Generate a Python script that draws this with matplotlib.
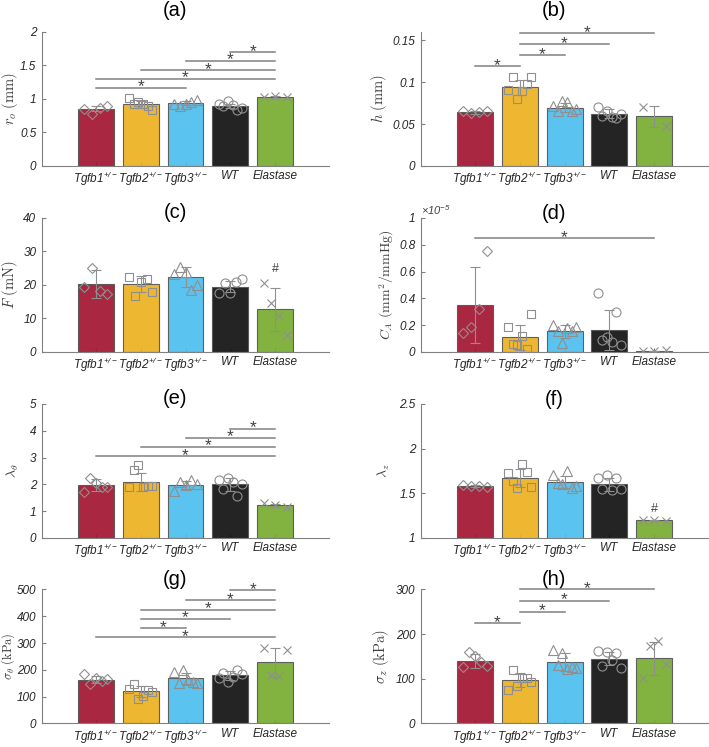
import numpy as np
import matplotlib
matplotlib.use('Agg')
import matplotlib.pyplot as plt
from matplotlib.ticker import FuncFormatter

plt.rcParams['font.family'] = ['Liberation Sans', 'DejaVu Sans']
plt.rcParams['mathtext.fontset'] = 'custom'
plt.rcParams['mathtext.rm'] = 'Liberation Sans:italic'
plt.rcParams['mathtext.it'] = 'Liberation Sans:italic'

groups = ['Tgfb1$^{+/-}$', 'Tgfb2$^{+/-}$', 'Tgfb3$^{+/-}$', 'WT', 'Elastase']
colors = ['#a2142f', '#edb120', '#4dbeee', '#111111', '#77ac30']
markers = ['D', 's', '^', 'o', 'x']
msizes = [5.5, 6, 7, 6.5, 5.5]

# (a) outer radius
ro_mean = [0.854, 0.918, 0.933, 0.898, 1.032]
ro_sd = [0.04, 0.05, 0.03, 0.03, 0.01]
ro_pts = [[0.85, 0.78, 0.86, 0.89],
          [1.02, 0.92, 0.96, 0.92, 0.89, 0.83],
          [0.92, 0.90, 0.92, 0.96, 0.99],
          [0.93, 0.89, 0.97, 0.91, 0.84, 0.86],
          [1.03, 1.04, 1.03]]
ro_sig = [(0, 2, 1.17), (0, 4, 1.305), (1, 4, 1.43), (2, 4, 1.57), (3, 4, 1.70)]

# (b) thickness
h_mean = [0.0642, 0.0941, 0.0697, 0.0626, 0.0591]
h_sd = [0.002, 0.009, 0.005, 0.005, 0.013]
h_pts = [[0.066, 0.063, 0.064, 0.066],
         [0.091, 0.106, 0.080, 0.089, 0.098, 0.106],
         [0.072, 0.066, 0.077, 0.076, 0.066, 0.068],
         [0.071, 0.060, 0.066, 0.058, 0.0575, 0.062],
         [0.071, 0.048]]
h_sig = [(0, 1, 0.1193), (1, 2, 0.1323), (1, 3, 0.1457), (1, 4, 0.1587)]

# (c) axial force
F_mean = [20.3, 20.3, 22.4, 19.5, 12.7]
F_sd = [4.2, 2.4, 3.0, 1.6, 6.5]
F_pts = [[19.3, 25.0, 18.2, 17.3],
         [22.3, 16.6, 21.0, 21.8, 18.0],
         [23.2, 25.3, 24.0, 18.6, 20.1],
         [17.6, 20.5, 17.5, 20.8, 21.7],
         [20.7, 14.6, 10.7, 5.2]]
F_sig = []
F_hash = (4, 23.0)

# (d) compliance, x1e-5 mm^2/mmHg
CA_mean = [0.348, 0.109, 0.154, 0.162, 0.008]
CA_sd = [0.283, 0.095, 0.05, 0.148, 0.003]
CA_pts = [[0.142, 0.184, 0.323, 0.751],
          [0.19, 0.06, 0.05, 0.12, 0.025, 0.28],
          [0.20, 0.16, 0.07, 0.18, 0.16, 0.19],
          [0.44, 0.09, 0.11, 0.075, 0.30, 0.05],
          [0.004, 0.008, 0.012]]
CA_sig = [(0, 4, 0.851)]

# (e) circumferential stretch
lt_mean = [1.965, 2.10, 1.98, 2.0, 1.22]
lt_sd = [0.22, 0.33, 0.16, 0.23, 0.06]
lt_pts = [[1.72, 2.25, 2.05, 1.90, 1.92],
          [1.89, 2.52, 2.71, 1.90, 1.95, 1.93],
          [1.77, 2.08, 1.97, 2.18, 2.0],
          [2.18, 1.84, 2.24, 2.10, 1.58, 2.0],
          [1.30, 1.23, 1.16]]
lt_sig = [(0, 4, 3.06), (1, 4, 3.41), (2, 4, 3.74), (3, 4, 4.08)]

# (f) axial stretch
lz_mean = [1.581, 1.675, 1.626, 1.60, 1.199]
lz_sd = [0.01, 0.10, 0.07, 0.07, 0.005]
lz_pts = [[1.59, 1.58, 1.58, 1.57],
          [1.73, 1.64, 1.56, 1.83, 1.74, 1.57],
          [1.71, 1.62, 1.60, 1.75, 1.56, 1.58],
          [1.67, 1.55, 1.70, 1.54, 1.67, 1.55],
          [1.20, 1.20, 1.19]]
lz_sig = []
lz_hash = (4, 1.26)

# (g) circumferential stress
st_mean = [164, 120.6, 168, 179, 229]
st_sd = [14, 20, 22, 16, 54]
st_pts = [[184, 147, 170, 160, 165],
          [127, 149, 93, 102, 124, 118],
          [192, 150, 198, 162, 156, 152],
          [168, 187, 155, 174, 201, 185],
          [280, 182, 178, 275]]
st_sig = [(0, 4, 321), (1, 2, 356), (1, 3, 390.5), (1, 4, 425), (2, 4, 460), (3, 4, 497.5)]

# (h) axial stress
sz_mean = [140, 97, 138, 145, 146]
sz_sd = [15, 16, 20, 15, 37]
sz_pts = [[126, 160, 150, 138, 128],
          [76, 119, 84, 101, 101, 92],
          [165, 130, 157, 122, 127, 125],
          [162, 128, 160, 143, 157, 125],
          [101, 173, 185, 133]]
sz_sig = [(0, 1, 225), (1, 2, 250), (1, 3, 275), (1, 4, 301)]

fig = plt.figure(figsize=(7.09, 7.47), dpi=100)

left_x, right_x = 0.0592, 0.5938
col_w = 0.405
row_b = [0.7778, 0.5288, 0.2798, 0.0315]
row_h = 0.1794


def panel(pos, means, sds, pts, sigs, ylim, yticks, ylabel, title, title_y,
          label_x, hashmark=None, ylab_size=10.5):
    ax = fig.add_axes(pos)
    x = np.arange(1, 6)
    ax.bar(x, means, width=0.8, color=colors, alpha=0.92,
           edgecolor='#555555', linewidth=0.8, zorder=2)
    for i, vals in enumerate(pts):
        off = np.linspace(-0.26, 0.26, len(vals))
        ax.plot(x[i] + off, vals, linestyle='none', marker=markers[i],
                ms=msizes[i], mfc='none', mec='#8f8f8f', mew=0.8, zorder=3)
    ax.errorbar(x, means, yerr=sds, fmt='none', ecolor='#8f8f8f',
                elinewidth=0.8, capsize=3.5, capthick=0.8, zorder=4)
    for i, j, y in sigs:
        ax.plot([x[i], x[j]], [y, y], color='#808080', lw=1.1,
                clip_on=False, zorder=5)
        ax.annotate('*', ((x[i] + x[j]) / 2, y), xytext=(0, 0.5),
                    textcoords='offset points', ha='center', va='center',
                    fontsize=12.5, color='#404040', annotation_clip=False)
    if hashmark is not None:
        ax.text(x[hashmark[0]], hashmark[1], '#', ha='center', va='bottom',
                fontsize=9, color='#404040')
    ax.set_xlim(-0.2, 6.2)
    ax.set_ylim(*ylim)
    ax.set_yticks(yticks)
    ax.yaxis.set_major_formatter(FuncFormatter(lambda v, p: '%g' % v))
    ax.set_xticks(x)
    ax.set_xticklabels(groups)
    for s in ['top', 'right']:
        ax.spines[s].set_visible(False)
    for s in ['left', 'bottom']:
        ax.spines[s].set_color('#808080')
    ax.tick_params(direction='in', length=3, color='#808080', labelsize=8.5,
                   labelcolor='#262626', pad=4)
    ax.tick_params(axis='x', pad=3)
    for lab in ax.get_xticklabels() + ax.get_yticklabels():
        lab.set_fontstyle('italic')
    ax.set_ylabel(ylabel, fontsize=ylab_size, color='#404040',
                  math_fontfamily='cm')
    ax.yaxis.set_label_coords(label_x, 0.5)
    ax.set_title(title, fontsize=14.5, x=0.464, y=title_y, pad=0)
    return ax


panel([left_x, row_b[0], col_w, row_h], ro_mean, ro_sd, ro_pts, ro_sig,
      (0, 2), [0, 0.5, 1, 1.5, 2], r'$r_o\ (\mathrm{mm})$', '(a)', 1.12, -0.076)
panel([right_x, row_b[0], col_w, row_h], h_mean, h_sd, h_pts, h_sig,
      (0, 0.16), [0, 0.05, 0.1, 0.15], r'$h\ (\mathrm{mm})$', '(b)', 1.12, -0.111)
panel([left_x, row_b[1], col_w, row_h], F_mean, F_sd, F_pts, F_sig,
      (0, 40), [0, 10, 20, 30, 40], r'$F\ (\mathrm{mN})$', '(c)', 1.0, -0.076,
      hashmark=F_hash)
axd = panel([right_x, row_b[1], col_w, row_h], CA_mean, CA_sd, CA_pts, CA_sig,
            (0, 1), [0, 0.2, 0.4, 0.6, 0.8, 1],
            r'$C_A\ (\mathrm{mm}^2/\mathrm{mmHg})$', '(d)', 0.99, -0.087,
            ylab_size=10)
axd.text(0.0, 1.01, '\u00d710$^{-5}$', transform=axd.transAxes, ha='left',
         va='bottom', fontsize=8, style='italic', color='#404040')
panel([left_x, row_b[2], col_w, row_h], lt_mean, lt_sd, lt_pts, lt_sig,
      (0, 5), [0, 1, 2, 3, 4, 5], r'$\lambda_\theta$', '(e)', 1.0, -0.072,
      ylab_size=10)
panel([right_x, row_b[2], col_w, row_h], lz_mean, lz_sd, lz_pts, lz_sig,
      (1, 2.5), [1, 1.5, 2, 2.5], r'$\lambda_z$', '(f)', 0.99, -0.10,
      hashmark=lz_hash, ylab_size=10)
panel([left_x, row_b[3], col_w, row_h], st_mean, st_sd, st_pts, st_sig,
      (0, 500), [0, 100, 200, 300, 400, 500], r'$\sigma_\theta\ (\mathrm{kPa})$',
      '(g)', 1.03, -0.088, ylab_size=9)
panel([right_x, row_b[3], col_w, row_h], sz_mean, sz_sd, sz_pts, sz_sig,
      (0, 300), [0, 100, 200, 300], r'$\sigma_z\ (\mathrm{kPa})$', '(h)', 1.03,
      -0.105)

fig.savefig('out.png', dpi=100)
